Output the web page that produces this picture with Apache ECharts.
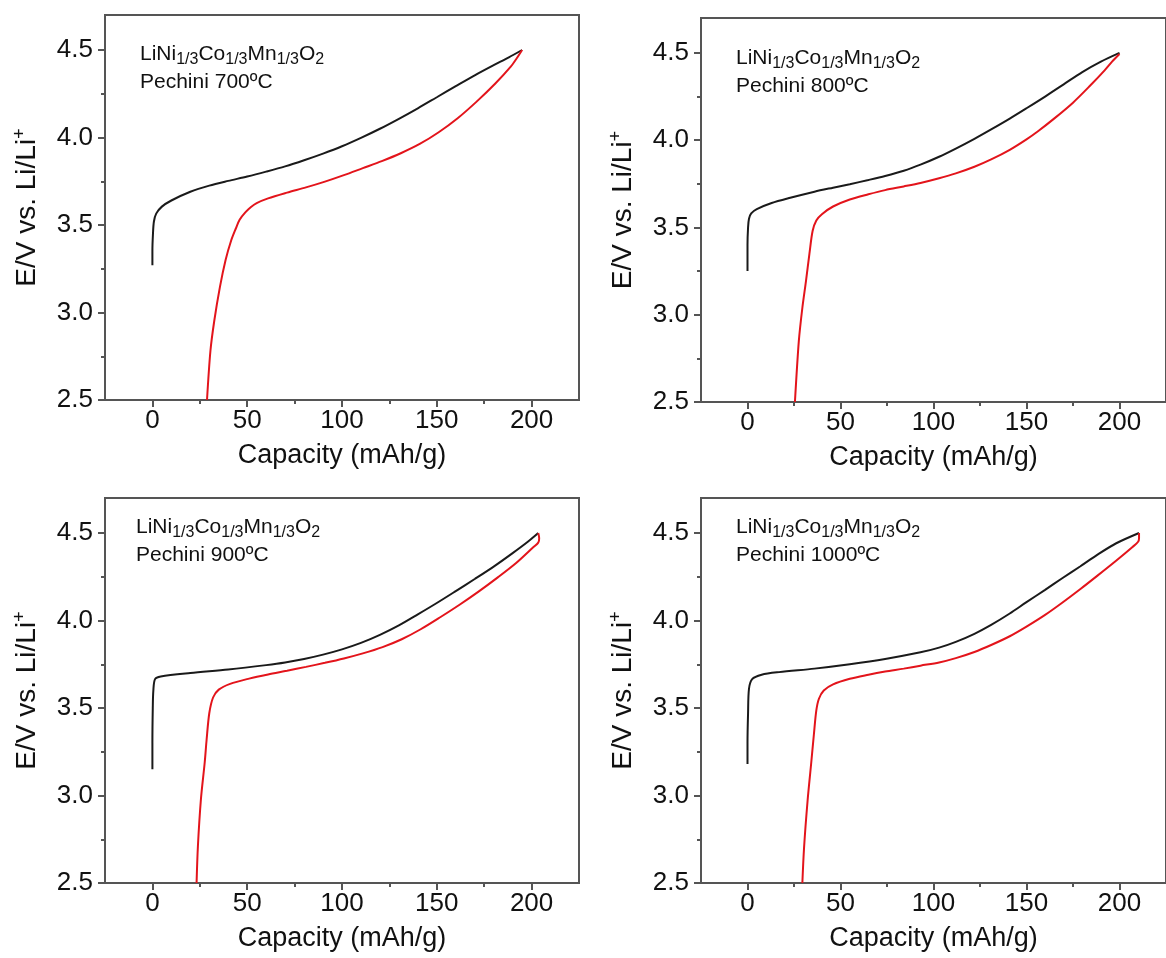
<!DOCTYPE html>
<html><head><meta charset="utf-8">
<script src="https://cdn.jsdelivr.net/npm/echarts@6/dist/echarts.min.js"></script>
<style>html,body{margin:0;padding:0;background:#fff}#c{width:1166px;height:958px}</style>
</head><body><div id="c"></div>
<script>
// ---- data ----
const xMajorTicks = [0, 50, 100, 150, 200];
const xMinorTicks = [25, 75, 125, 175];
const yMajorTicks = [2.5, 3.0, 3.5, 4.0, 4.5];
const yMinorTicks = [2.75, 3.25, 3.75, 4.25];
const xAxisTitle = 'Capacity (mAh/g)';
const compoundName = ['LiNi', '1/3', 'Co', '1/3', 'Mn', '1/3', 'O', '2'];
const panelLabels = ['Pechini 700ºC', 'Pechini 800ºC', 'Pechini 900ºC', 'Pechini 1000ºC'];

const charge700 = [[0,3.27],[0,3.35],[0.3,3.45],[0.8,3.52],[2,3.565],[5,3.605],[10,3.64],[20,3.69],[30,3.725],[40,3.752],[50,3.777],[60,3.805],[70,3.835],[80,3.87],[90,3.908],[100,3.95],[110,3.998],[120,4.05],[130,4.107],[140,4.167],[150,4.23],[160,4.293],[170,4.355],[180,4.413],[188,4.458],[195,4.5]];
const discharge700 = [[195,4.5],[192,4.45],[189,4.405],[181,4.31],[171,4.205],[161,4.11],[151,4.03],[141,3.963],[131,3.91],[121,3.865],[111,3.825],[101,3.785],[91,3.748],[81,3.715],[71,3.685],[61,3.652],[55,3.625],[52,3.603],[49,3.572],[46,3.53],[44,3.48],[41.5,3.41],[38.6,3.30],[35.6,3.145],[32.6,2.95],[30.6,2.78],[28.8,2.5]];

const charge800 = [[0,3.25],[0,3.4],[0.3,3.5],[0.8,3.55],[2,3.58],[5,3.605],[13,3.64],[23,3.67],[36,3.705],[46,3.728],[55,3.748],[65,3.772],[74,3.795],[84,3.825],[93,3.86],[103,3.905],[112,3.952],[122,4.008],[131,4.062],[141,4.124],[150,4.183],[160,4.25],[170,4.32],[180,4.39],[190,4.45],[200,4.5]];
const discharge800 = [[200,4.494],[196,4.45],[192,4.40],[184,4.31],[175,4.215],[165,4.125],[156,4.05],[150,4.005],[141,3.945],[131,3.89],[122,3.848],[112,3.81],[103,3.782],[93,3.755],[84,3.735],[74,3.714],[65,3.69],[55,3.66],[46,3.62],[40,3.576],[37,3.54],[35,3.48],[33.3,3.35],[31.4,3.19],[29.5,3.04],[27.6,2.85],[25.5,2.5]];

const charge900 = [[0,3.15],[0,3.3],[0.2,3.5],[0.5,3.6],[1.4,3.665],[4.4,3.68],[20,3.70],[40,3.72],[60,3.745],[70,3.76],[80,3.78],[90,3.805],[100,3.835],[110,3.872],[120,3.918],[130,3.972],[140,4.035],[150,4.1],[160,4.168],[170,4.237],[180,4.308],[190,4.385],[198,4.45],[203.5,4.5]];
const discharge900 = [[203.5,4.5],[204,4.47],[203.5,4.445],[201,4.42],[192,4.33],[182,4.245],[172,4.165],[162,4.09],[152,4.02],[141.5,3.95],[131.5,3.893],[121.4,3.848],[111,3.812],[101,3.783],[91,3.758],[81,3.735],[71,3.713],[61,3.692],[51,3.668],[41,3.638],[35,3.605],[32,3.56],[30,3.47],[28.6,3.32],[27.6,3.19],[25.6,2.98],[24,2.71],[23.3,2.5]];

const charge1000 = [[0,3.18],[0,3.3],[0.3,3.47],[0.8,3.61],[2.5,3.665],[7.6,3.69],[17,3.705],[36,3.725],[55,3.75],[74,3.78],[93,3.818],[103,3.845],[112,3.878],[122,3.924],[131,3.975],[141,4.04],[150,4.105],[160,4.175],[169,4.24],[179,4.31],[188,4.375],[198,4.44],[210.5,4.5]];
const discharge1000 = [[210.5,4.5],[210.5,4.47],[210,4.45],[207,4.42],[198,4.34],[188,4.255],[179,4.18],[169,4.10],[160,4.032],[150,3.965],[141,3.91],[131,3.86],[122,3.82],[112,3.785],[103,3.76],[93,3.742],[84,3.725],[74,3.708],[65,3.69],[55,3.667],[46,3.635],[41,3.6],[38.4,3.553],[37,3.486],[35.7,3.35],[34.2,3.18],[32.3,2.97],[30.4,2.7],[29.5,2.5]];

const chargeSeries = [charge700, charge800, charge900, charge1000];
const dischargeSeries = [discharge700, discharge800, discharge900, discharge1000];

// ---- layout / style ----
const FONT = '"Liberation Sans", Arial, Helvetica, sans-serif';
const FRAME = '#555555';
const TEXT = '#111111';
const grids = [
  {left: 105, top: 15, width: 474, height: 385},
  {left: 701, top: 18, width: 475, height: 384},
  {left: 105, top: 498, width: 474, height: 385},
  {left: 701, top: 498, width: 475, height: 385}
];
const textPos = [[140, 40], [736, 44], [136, 513], [736, 513]];

const xAxes = [], yAxes = [], series = [], graphics = [];
grids.forEach((g, i) => {
  g.show = true; g.borderColor = FRAME; g.borderWidth = 2; g.backgroundColor = 'transparent';
  const xBase = {type: 'value', gridIndex: i, min: -25, max: 225, position: 'bottom', splitLine: {show: false}};
  xAxes.push(Object.assign({}, xBase, {
    axisLine: {show: true, onZero: false, lineStyle: {color: FRAME, width: 2}},
    axisTick: {show: true, length: 7, customValues: xMajorTicks, lineStyle: {color: FRAME, width: 2}},
    axisLabel: {show: true, customValues: xMajorTicks, fontSize: 26, fontFamily: FONT, color: TEXT, margin: 8},
    name: xAxisTitle, nameLocation: 'middle', nameGap: 42,
    nameTextStyle: {fontSize: 27, fontFamily: FONT, color: TEXT}
  }));
  xAxes.push(Object.assign({}, xBase, {
    axisLine: {show: false, onZero: false},
    axisTick: {show: true, length: 4, customValues: xMinorTicks, lineStyle: {color: FRAME, width: 2}},
    axisLabel: {show: false}
  }));
  const yBase = {type: 'value', gridIndex: i, min: 2.5, max: 4.7, position: 'left', splitLine: {show: false}};
  yAxes.push(Object.assign({}, yBase, {
    axisLine: {show: true, onZero: false, lineStyle: {color: FRAME, width: 2}},
    axisTick: {show: true, length: 7, customValues: yMajorTicks, lineStyle: {color: FRAME, width: 2}},
    axisLabel: {show: true, customValues: yMajorTicks, fontSize: 26, fontFamily: FONT, color: TEXT, margin: 12,
      formatter: v => Number(v).toFixed(1)},
    name: 'E/V vs. Li/Li{sup|+}', nameLocation: 'middle', nameGap: 62,
    nameTextStyle: {fontSize: 28, fontFamily: FONT, color: TEXT, lineHeight: 32,
      rich: {sup: {fontSize: 18, fontFamily: FONT, color: TEXT, lineHeight: 14, verticalAlign: 'top'}}}
  }));
  yAxes.push(Object.assign({}, yBase, {
    axisLine: {show: false, onZero: false},
    axisTick: {show: true, length: 4, customValues: yMinorTicks, lineStyle: {color: FRAME, width: 2}},
    axisLabel: {show: false}
  }));
  series.push({type: 'line', xAxisIndex: 2 * i, yAxisIndex: 2 * i, data: chargeSeries[i],
    showSymbol: false, smooth: 0.3, lineStyle: {color: '#1a1a1a', width: 2}, z: 3, silent: true});
  series.push({type: 'line', xAxisIndex: 2 * i, yAxisIndex: 2 * i, data: dischargeSeries[i],
    showSymbol: false, smooth: 0.3, lineStyle: {color: '#e3141b', width: 2}, z: 4, silent: true});
  let t = '';
  compoundName.forEach((part, k) => { t += (k % 2 === 0 ? '{n|' : '{s|') + part + '}'; });
  t += '\n{n|' + panelLabels[i] + '}';
  graphics.push({type: 'text', x: textPos[i][0], y: textPos[i][1], z: 10,
    style: {text: t, fill: TEXT, font: '21px ' + FONT,
      rich: {
        n: {fontSize: 21, fontFamily: FONT, fill: TEXT, lineHeight: 28},
        s: {fontSize: 16, fontFamily: FONT, fill: TEXT, lineHeight: 12, verticalAlign: 'bottom'}
      }}});
});

const chart = echarts.init(document.getElementById('c'), null, {renderer: 'canvas'});
chart.setOption({
  animation: false,
  backgroundColor: '#ffffff',
  grid: grids,
  xAxis: xAxes,
  yAxis: yAxes,
  series: series,
  graphic: graphics
});
</script>
</body></html>
